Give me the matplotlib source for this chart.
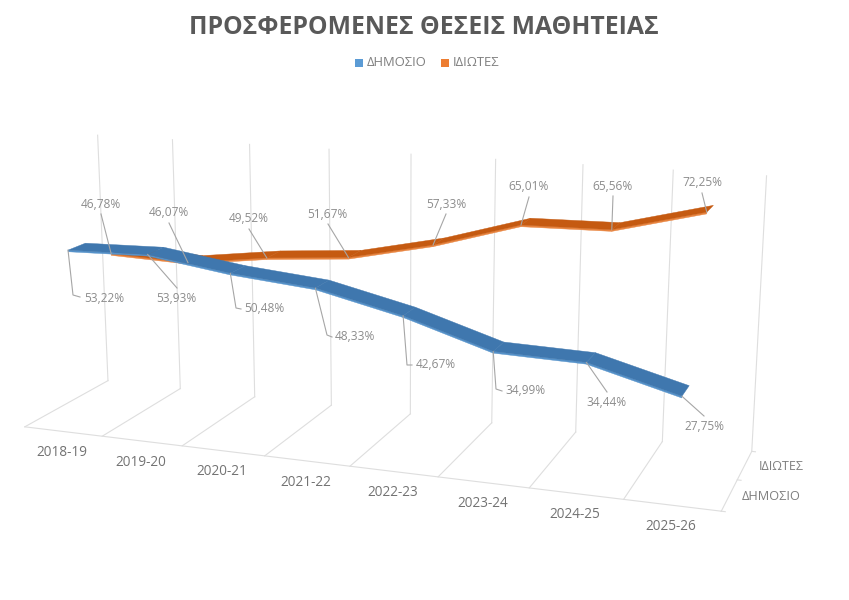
import numpy as np
import matplotlib
matplotlib.use('Agg')
import matplotlib.pyplot as plt
from matplotlib.patches import Polygon, Rectangle

plt.rcParams['font.family'] = ['Open Sans', 'DejaVu Sans']

categories = ['2018-19', '2019-20', '2020-21', '2021-22', '2022-23', '2023-24', '2024-25', '2025-26']
public_values = [53.22, 53.93, 50.48, 48.33, 42.67, 34.99, 34.44, 27.75]
private_values = [46.78, 46.07, 49.52, 51.67, 57.33, 65.01, 65.56, 72.25]
public_name = 'ΔΗΜΟΣΙΟ'
private_name = 'ΙΔΙΩΤΕΣ'
title = 'ΠΡΟΣΦΕΡΟΜΕΝΕΣ ΘΕΣΕΙΣ ΜΑΘΗΤΕΙΑΣ'
value_max = 80.0

# camera fit: (category pos, depth, value share) -> pixel
calib = [
    (0, 0, 0, 25, 427), (4, 0, 0, 350, 466), (8, 0, 0, 722, 511),
    (0, 1, 0, 108, 381), (4, 1, 0, 410, 414), (8, 1, 0, 752, 451),
    (0, 1, 1, 98, 135), (4, 1, 1, 411, 154), (8, 1, 1, 767, 176),
    (0.5, 0.15, 53.22 / 80, 68, 250), (0.5, 0.35, 53.22 / 80, 85, 243),
    (7.5, 0.15, 27.75 / 80, 682, 397), (7.5, 0.35, 27.75 / 80, 688, 385),
    (7.5, 0.65, 72.25 / 80, 707, 213), (7.5, 0.85, 72.25 / 80, 713, 205),
]


def fit_camera(points):
    rows = []
    for u, d, h, px, py in points:
        x, y = px / 1000, py / 1000
        rows.append([u, d, h, 1, 0, 0, 0, 0, -x * u, -x * d, -x * h, -x])
        rows.append([0, 0, 0, 0, u, d, h, 1, -y * u, -y * d, -y * h, -y])
    _, _, vt = np.linalg.svd(np.array(rows))
    return vt[-1].reshape(3, 4)


cam = fit_camera(calib)


def proj(u, d, h):
    p = cam @ np.array([u, d, h, 1.0])
    return p[0] / p[2] * 1000, p[1] / p[2] * 1000


fig = plt.figure(figsize=(8.49, 6.0), dpi=100)
ax = fig.add_axes([0, 0, 1, 1])
ax.set_xlim(0, 849)
ax.set_ylim(600, 0)
ax.axis('off')

grid_col = '#dedede'


def seg(a, b, **kw):
    p, q = proj(*a), proj(*b)
    ax.plot([p[0], q[0]], [p[1], q[1]], color=grid_col, lw=0.8, zorder=1, **kw)


for i in range(len(categories) + 1):
    seg((i, 0, 0), (i, 1, 0))
    seg((i, 1, 0), (i, 1, 1))
seg((0, 0, 0), (8, 0, 0))
for d in [0, 0.5, 1]:
    seg((8, d, 0), (8.04, d, 0))


def ribbon(values, d1, d2, top, side, z):
    hs = [v / value_max for v in values]
    for i in range(len(hs) - 1):
        u0, u1 = i + 0.5, i + 1.5
        a, b = hs[i], hs[i + 1]
        thick = 0.006
        ax.add_patch(Polygon([proj(u0, d1, a), proj(u1, d1, b), proj(u1, d1, b - thick), proj(u0, d1, a - thick)],
                             fc=side, ec=side, lw=0.3, zorder=z))
        ax.add_patch(Polygon([proj(u0, d1, a), proj(u1, d1, b), proj(u1, d2, b), proj(u0, d2, a)],
                             fc=top, ec=top, lw=0.3, zorder=z + 0.1))


ribbon(private_values, 0.65, 0.85, '#c55a11', '#e8843f', 3)
ribbon(public_values, 0.15, 0.35, '#3f77ae', '#5592ca', 4)

label_col = '#8c8c8c'
leader_col = '#a6a6a6'

# label centres and optional leader elbows, in pixels
private_labels = [(101, 205), (169, 213), (249, 219), (327, 214), (446, 204), (529, 187), (613, 186), (702, 183)]
private_ends = [(101, 214), (169, 223), (249, 229), (328, 224), (446, 214), (529, 197), (613, 196), (702, 193)]
public_labels = [(104, 298), (176, 298), (264, 309), (355, 337), (436, 365), (526, 391), (607, 403), (704, 426)]
public_ends = [[(73, 295), (80, 297)], [(177, 288)], [(236, 308), (241, 309)], [(327, 335), (332, 337)],
               [(407, 365), (412, 365)], [(496, 389), (502, 391)], [(607, 392)], [(704, 416)]]

for i, v in enumerate(private_values):
    s = proj(i + 0.5, 0.65, v / value_max)
    e = private_ends[i]
    ax.plot([e[0], s[0]], [e[1], s[1]], color=leader_col, lw=0.8, zorder=6)
    ax.text(*private_labels[i], f'{v:.2f}%'.replace('.', ','), color=label_col, fontsize=8.6,
            ha='center', va='center', zorder=7)

for i, v in enumerate(public_values):
    s = proj(i + 0.5, 0.15, v / value_max)
    pts = [s] + public_ends[i]
    ax.plot([p[0] for p in pts], [p[1] for p in pts], color=leader_col, lw=0.8, zorder=6)
    ax.text(*public_labels[i], f'{v:.2f}%'.replace('.', ','), color=label_col, fontsize=8.6,
            ha='center', va='center', zorder=7)

# category labels below the front edge
for i, name in enumerate(categories):
    p = proj(i + 0.5, 0, 0)
    ax.text(p[0] - 1, p[1] + 21, name, color='#737373', fontsize=9.8, ha='center', va='center')

ax.text(781, 466, private_name, color='#7f7f7f', fontsize=9, ha='center', va='center')
ax.text(771, 496, public_name, color='#7f7f7f', fontsize=9.2, ha='center', va='center')

ax.text(424, 27, title, color='#595959', fontsize=17.8, fontweight='bold', ha='center', va='center')

ax.add_patch(Rectangle((355, 59), 8, 8, fc='#5b9bd5', ec='none'))
ax.text(367, 62.5, public_name, color='#7f7f7f', fontsize=9.4, ha='left', va='center')
ax.add_patch(Rectangle((441, 59), 8, 8, fc='#ed7d31', ec='none'))
ax.text(453, 62.5, private_name, color='#7f7f7f', fontsize=9.4, ha='left', va='center')

fig.savefig('out.png', dpi=100)
